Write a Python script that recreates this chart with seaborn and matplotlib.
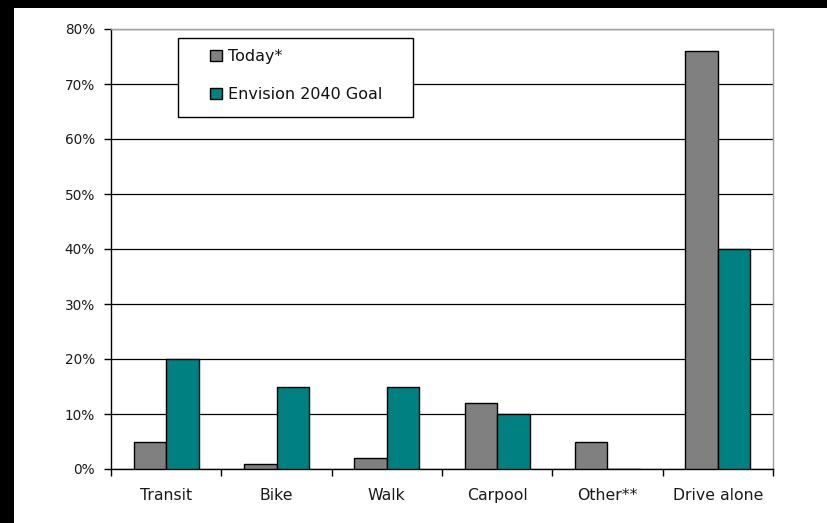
import matplotlib
matplotlib.use("Agg")
import matplotlib.pyplot as plt
import seaborn as sns
import pandas as pd
from matplotlib.patches import Rectangle
from matplotlib.ticker import FuncFormatter, MultipleLocator, FixedLocator

categories = ["Transit", "Bike", "Walk", "Carpool", "Other**", "Drive alone"]
today = [5, 1, 2, 12, 5, 76]
goal = [20, 15, 15, 10, 0, 40]
series_names = ["Today*", "Envision 2040 Goal"]
colors = ["#808080", "#008080"]

df = pd.DataFrame({
    "category": categories * 2,
    "value": today + goal,
    "series": [series_names[0]] * len(categories) + [series_names[1]] * len(categories),
})

sns.set_style("white")
plt.rcParams['font.family'] = ['DejaVu Sans']

W, H = 828, 523
AX_L, AX_R, AX_T, AX_B = 111, 773, 29, 469
fig = plt.figure(figsize=(W / 100, H / 100), dpi=100, facecolor="black")
fig.patches.append(Rectangle((14 / W, 0), 1 - 14 / W, 1 - 8 / H, transform=fig.transFigure,
                             facecolor="white", edgecolor="none", zorder=-5))

ax = fig.add_axes([AX_L / W, 1 - AX_B / H, (AX_R - AX_L) / W, (AX_B - AX_T) / H])
ax.set_facecolor("white")


def axx(px):
    return (px - AX_L) / (AX_R - AX_L)


def axy(py):
    return (AX_B - py) / (AX_B - AX_T)


sns.barplot(data=df, x="category", y="value", hue="series", palette=colors,
            order=categories, hue_order=series_names, width=0.59,
            edgecolor="black", linewidth=1.0, saturation=1, ax=ax, zorder=3)

ax.set_ylim(0, 80)
ax.set_xlim(-0.5, len(categories) - 0.5)
ax.yaxis.set_major_locator(MultipleLocator(10))
ax.yaxis.set_major_formatter(FuncFormatter(lambda v, p: f"{int(v)}%"))
ax.grid(axis="y", color="black", linewidth=0.9, zorder=1)
ax.set_axisbelow(True)

ax.set_xlabel("")
ax.set_ylabel("")

for side in ["left", "bottom"]:
    ax.spines[side].set_color("black")
    ax.spines[side].set_linewidth(1.0)
for side in ["top", "right"]:
    ax.spines[side].set_visible(True)
    ax.spines[side].set_color("#a0a0a0")
    ax.spines[side].set_linewidth(1.0)

ax.tick_params(axis="y", which="major", left=True, length=5, width=1, color="black",
               labelsize=9.8, pad=6.5, labelcolor="#1a1a1a")
ax.tick_params(axis="x", which="major", bottom=False, length=0, labelsize=11.3, pad=13.5,
               labelcolor="#1a1a1a")
ax.xaxis.set_minor_locator(FixedLocator([i + 0.5 for i in range(-1, len(categories))]))
ax.tick_params(axis="x", which="minor", bottom=True, length=5, width=1, color="black")

# legend frame
ax.add_patch(Rectangle((axx(178), axy(117)), axx(413) - axx(178), axy(38) - axy(117),
                       transform=ax.transAxes, facecolor="white", edgecolor="black",
                       linewidth=1.0, zorder=5, clip_on=False))

leg = ax.legend(loc="upper left", bbox_to_anchor=(axx(210), axy(49)),
                frameon=False, fontsize=11.5,
                handlelength=0.75, handleheight=0.75, handletextpad=0.35,
                labelspacing=1.45, borderpad=0.0, borderaxespad=0)
leg.set_zorder(6)
for t in leg.get_texts():
    t.set_color("#111111")

fig.savefig("out.png", dpi=100, facecolor="black")
